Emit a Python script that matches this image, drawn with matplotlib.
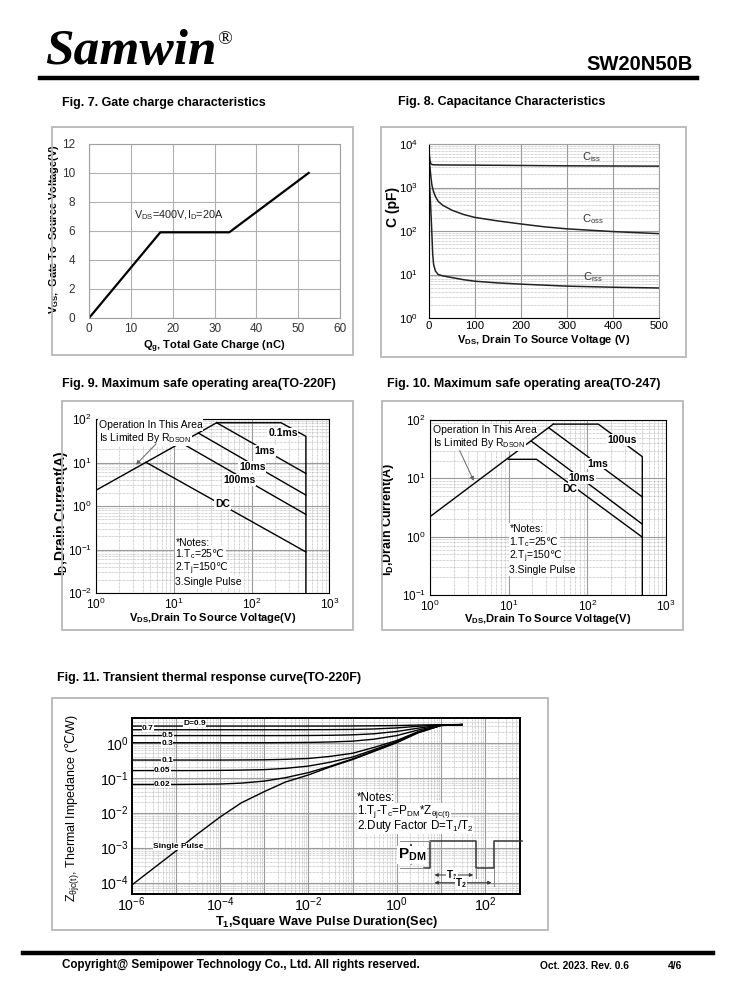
import math
import matplotlib
matplotlib.use("Agg")
import matplotlib.pyplot as plt
from matplotlib.patches import Rectangle, FancyArrowPatch
from matplotlib.lines import Line2D
from matplotlib.ticker import LogLocator, NullFormatter, FixedLocator, MultipleLocator, FuncFormatter

plt.rcParams['font.family'] = ['Liberation Sans', 'DejaVu Sans']
plt.rcParams['mathtext.default'] = 'regular'
# \mathrm{} falls back to DejaVu Sans, which has the degree-Celsius sign
plt.rcParams['mathtext.fontset'] = 'custom'
plt.rcParams['mathtext.rm'] = 'DejaVu Sans'
plt.rcParams['mathtext.it'] = 'DejaVu Sans:italic'
plt.rcParams['mathtext.bf'] = 'DejaVu Sans:bold'

W, H = 738, 1000
DEG = '$\\mathrm{\u2103}$'

# ---- Fig. 7 gate charge ----
qg = [0, 17, 33.5, 52.5]
vgs = [0, 5.9, 5.9, 10]

# ---- Fig. 8 capacitance ----
vds_cap = [0.5, 2, 4, 6, 8, 10, 14, 20, 30, 50, 75, 100, 150, 200, 250, 300, 400, 500]
ciss = [6000, 4200, 3500, 3400, 3350, 3330, 3320, 3310, 3300, 3290, 3280, 3270, 3240, 3210, 3180, 3150, 3120, 3100]
coss = [5000, 3000, 1800, 1200, 950, 800, 620, 480, 390, 300, 240, 205, 170, 145, 125, 112, 97, 87]
crss = [1500, 800, 300, 100, 30, 17, 12, 10, 9.3, 8.5, 7.6, 7.0, 6.4, 6.0, 5.7, 5.4, 5.1, 4.9]

# ---- Fig. 9 SOA TO-220F ----
f9_rds_v, f9_rds_i = [1, 35.6], [2.3, 82]
f9_01ms_v, f9_01ms_i = [35.6, 240, 500, 500], [82, 82, 40, 0.01]
f9_1ms_v, f9_1ms_i = [35.6, 500], [82, 5.6]
f9_10ms_v, f9_10ms_i = [20.7, 500], [47.6, 1.78]
f9_100ms_v, f9_100ms_i = [12.4, 500], [28.5, 0.64]
f9_dc_v, f9_dc_i = [4.4, 500], [10.1, 0.088]

# ---- Fig. 10 SOA TO-247 ----
f10_rds_v, f10_rds_i = [1, 36.9], [2.2, 85]
f10_100us_v, f10_100us_i = [36.9, 138, 500, 500], [85, 85, 23.5, 0.1]
f10_1ms_v, f10_1ms_i = [33, 500], [72, 4.8]
f10_10ms_v, f10_10ms_i = [19.6, 500], [43, 1.64]
f10_dc_v, f10_dc_i = [9.9, 22.6, 500], [21.2, 21.2, 0.98]

# ---- Fig. 11 transient thermal ----
t_pulse = [1e-6, 1e-5, 3e-5, 1e-4, 3e-4, 1e-3, 3e-3, 1e-2, 3e-2, 1e-1, 3e-1, 1, 3, 10, 30]
z_single = [8.5e-5, 8e-4, 2.4e-3, 7.5e-3, 0.019, 0.04, 0.075, 0.12, 0.2, 0.33, 0.56, 1.0, 1.9, 3.1, 3.3]
z_d002 = [0.064, 0.064, 0.065, 0.066, 0.07, 0.08, 0.1, 0.14, 0.21, 0.345, 0.58, 1.03, 1.95, 3.12, 3.3]
z_d005 = [0.16, 0.16, 0.16, 0.162, 0.165, 0.17, 0.185, 0.215, 0.275, 0.39, 0.63, 1.08, 2.0, 3.14, 3.3]
z_d01 = [0.32, 0.32, 0.32, 0.32, 0.322, 0.325, 0.335, 0.355, 0.405, 0.5, 0.73, 1.16, 2.06, 3.16, 3.3]
z_d03 = [1.0, 1.0, 1.0, 1.0, 1.0, 1.0, 1.01, 1.02, 1.05, 1.11, 1.26, 1.6, 2.3, 3.2, 3.3]
z_d05 = [1.6, 1.6, 1.6, 1.6, 1.6, 1.6, 1.6, 1.61, 1.63, 1.68, 1.8, 2.1, 2.6, 3.22, 3.3]
z_d07 = [2.35, 2.35, 2.35, 2.35, 2.35, 2.35, 2.35, 2.36, 2.37, 2.4, 2.47, 2.65, 2.95, 3.25, 3.3]
z_d09 = [3.0, 3.0, 3.0, 3.0, 3.0, 3.0, 3.0, 3.0, 3.0, 3.02, 3.05, 3.1, 3.2, 3.28, 3.3]

fig = plt.figure(figsize=(W / 100, H / 100), dpi=100)


def fx(px):
    return px / W


def fy(py):
    return 1 - py / H


def px_axes(x0, y0, x1, y1):
    return fig.add_axes([fx(x0), fy(y1), (x1 - x0) / W, (y1 - y0) / H])


def frame(x0, y0, x1, y1):
    fig.add_artist(Rectangle((fx(x0), fy(y1)), (x1 - x0) / W, (y1 - y0) / H,
                             transform=fig.transFigure, fill=False,
                             edgecolor='#b8b8b8', lw=1.3))


def fline(xs, ys, **kw):
    fig.add_artist(Line2D([fx(x) for x in xs], [fy(y) for y in ys],
                          transform=fig.transFigure, **kw))


def farrow(p0, p1, style):
    fig.add_artist(FancyArrowPatch((fx(p0[0]), fy(p0[1])), (fx(p1[0]), fy(p1[1])),
                                   transform=fig.transFigure, arrowstyle=style,
                                   mutation_scale=5, color='#333333', lw=0.7))


def ftext(px, py, s, **kw):
    fig.text(fx(px), fy(py), s, **kw)


def place_labels(ax, xl, yl):
    # centre of the x label and the y label, in axes fractions
    ax.xaxis.set_label_coords(*xl)
    ax.xaxis.label.set_va('center')
    ax.yaxis.set_label_coords(*yl)
    ax.yaxis.label.set_va('center')
    ax.yaxis.label.set_ha('center')


def log_grid(ax):
    ax.grid(True, which='major', color='#9a9a9a', lw=0.8, ls='-')
    ax.xaxis.set_minor_locator(LogLocator(base=10, subs=range(2, 10), numticks=20))
    ax.yaxis.set_minor_locator(LogLocator(base=10, subs=range(2, 10), numticks=20))
    ax.grid(True, which='minor', color='#a8a8a8', lw=0.5, ls=(0, (1, 1)))
    ax.xaxis.set_minor_formatter(NullFormatter())
    ax.yaxis.set_minor_formatter(NullFormatter())
    ax.set_axisbelow(True)


white = dict(facecolor='white', edgecolor='none', pad=0.6)

# ---------------- header / footer ----------------
ftext(45, 52, 'Samwin', family='Liberation Serif', weight='bold', style='italic',
      fontsize=37, va='center', ha='left')
ftext(217, 40, '®', family='Liberation Serif', fontsize=14, va='center', ha='left')
ftext(693, 65, 'SW20N50B', weight='bold', fontsize=14.5, va='center', ha='right')
fline([40, 697], [78, 78], color='black', lw=3.2)
fline([23, 713], [953, 953], color='black', lw=3.2)
ftext(62, 965, 'Copyright@ Semipower Technology Co., Ltd. All rights reserved.',
      weight='bold', fontsize=8.4, va='center', ha='left')
ftext(540, 966, 'Oct. 2023. Rev. 0.6', weight='bold', fontsize=7.4, va='center', ha='left')
ftext(668, 966, '4/6', weight='bold', fontsize=7.4, va='center', ha='left')

ftext(62, 103, 'Fig. 7. Gate charge characteristics', weight='bold', fontsize=9, va='center')
ftext(398, 102, 'Fig. 8. Capacitance Characteristics', weight='bold', fontsize=9, va='center')
ftext(62, 384, 'Fig. 9. Maximum safe operating area(TO-220F)', weight='bold', fontsize=9, va='center')
ftext(387, 384, 'Fig. 10. Maximum safe operating area(TO-247)', weight='bold', fontsize=9, va='center')
ftext(57, 678, 'Fig. 11. Transient thermal response curve(TO-220F)', weight='bold', fontsize=9, va='center')

frame(52, 127, 353, 355)
frame(381, 127, 686, 357)
frame(62, 401, 353, 630)
frame(382, 401, 683, 630)
frame(52, 698, 548, 930)

# ---------------- Fig. 7 ----------------
ax7 = px_axes(89.3, 144, 340, 317.7)
ax7.plot(qg, vgs, color='black', lw=1.6)
ax7.set_xlim(0, 60)
ax7.set_ylim(0, 12)
ax7.xaxis.set_major_locator(MultipleLocator(10))
ax7.yaxis.set_major_locator(MultipleLocator(2))
ax7.grid(True, color='#b0b0b0', lw=0.8)
ax7.set_axisbelow(True)
for sp in ax7.spines.values():
    sp.set_color('#a0a0a0')
ax7.tick_params(length=0, labelsize=8.5, colors='#333333')
ax7.tick_params(axis='y', pad=10)
ax7.tick_params(axis='x', pad=4)
ax7.text(10.6, 7.05, '$V_{DS}$=400V,$I_{D}$=20A', fontsize=7.8, va='center', ha='left', color='#222222')
ax7.set_xlabel('$Q_{g}$, Total Gate Charge (nC)', weight='bold', fontsize=8)
ax7.set_ylabel('$V_{GS}$,  Gate To  Source Voltage(V)', weight='bold', fontsize=7.8)
place_labels(ax7, (0.5, -0.165), (-0.142, 0.51))

# ---------------- Fig. 8 ----------------
ax8 = px_axes(429, 144, 659, 318)
ax8.plot(vds_cap, ciss, color='#222222', lw=1.1)
ax8.plot(vds_cap, coss, color='#222222', lw=1.1)
ax8.plot(vds_cap, crss, color='#222222', lw=1.1)
ax8.set_yscale('log')
ax8.set_xlim(0, 500)
ax8.set_ylim(1, 1e4)
ax8.xaxis.set_major_locator(MultipleLocator(100))
ax8.yaxis.set_major_locator(LogLocator(base=10, numticks=10))
ax8.grid(True, which='major', color='#9a9a9a', lw=0.8)
ax8.yaxis.set_minor_locator(LogLocator(base=10, subs=range(2, 10), numticks=20))
ax8.yaxis.set_minor_formatter(NullFormatter())
ax8.grid(True, which='minor', axis='y', color='#a8a8a8', lw=0.5, ls=(0, (1, 1)))
ax8.set_axisbelow(True)
ax8.tick_params(which='both', length=0, labelsize=8.2)
ax8.tick_params(axis='y', pad=8)
ax8.tick_params(axis='x', pad=2)
for sp in ('top', 'right'):
    ax8.spines[sp].set_color('#a0a0a0')
ax8.text(353, 4900, '$C_{iss}$', fontsize=8, va='center', ha='center', color='#333333')
ax8.text(356, 183, '$C_{oss}$', fontsize=8, va='center', ha='center', color='#333333')
ax8.text(356, 8.7, '$C_{rss}$', fontsize=8, va='center', ha='center', color='#333333')
ax8.set_xlabel('$V_{DS}$, Drain To Source Voltage (V)', weight='bold', fontsize=8)
ax8.set_ylabel('C (pF)', weight='bold', fontsize=10)
place_labels(ax8, (0.5, -0.125), (-0.157, 0.638))

# ---------------- Fig. 9 ----------------
ax9 = px_axes(96, 419, 329.3, 593)
for xs, ys in [(f9_rds_v, f9_rds_i), (f9_01ms_v, f9_01ms_i), (f9_1ms_v, f9_1ms_i),
               (f9_10ms_v, f9_10ms_i), (f9_100ms_v, f9_100ms_i), (f9_dc_v, f9_dc_i)]:
    ax9.plot(xs, ys, color='black', lw=1.0)
ax9.set_xscale('log')
ax9.set_yscale('log')
ax9.set_xlim(1, 1000)
ax9.set_ylim(0.01, 100)
log_grid(ax9)
ax9.tick_params(which='both', length=0, labelsize=8.5, pad=3)
for lbl, x, y in [('0.1ms', 253, 46.5), ('1ms', 148, 18.6), ('10ms', 102, 7.9),
                  ('100ms', 69, 4.0), ('DC', 42, 1.1)]:
    ax9.text(x, y, lbl, fontsize=7.5, weight='bold', ha='center', va='center', bbox=white)
ax9.text(1.08, 72, 'Operation In This Area', fontsize=7.5, va='center', ha='left', bbox=white)
ax9.text(1.08, 37, 'Is Limited By $R_{DSON}$', fontsize=7.5, va='center', ha='left', bbox=white)
ax9.annotate('', xy=(3.08, 8.0), xytext=(6.3, 30),
             arrowprops=dict(arrowstyle='-|>', color='#666666', lw=0.7, mutation_scale=6))
for txt, y in [('*Notes:', 0.14), ('1.$T_{c}$=25' + DEG, 0.078), ('2.$T_{j}$=150' + DEG, 0.036),
               ('3.Single Pulse', 0.018)]:
    ax9.text(10.5, y, txt, fontsize=7.5, va='center', ha='left', bbox=white)
ax9.set_xlabel('$V_{DS}$,Drain To Source Voltage(V)', weight='bold', fontsize=8)
ax9.set_ylabel('$I_{D}$,Drain Current(A)', weight='bold', fontsize=10)
place_labels(ax9, (0.5, -0.145), (-0.15, 0.457))

# ---------------- Fig. 10 ----------------
ax10 = px_axes(430, 420, 666, 595)
for xs, ys in [(f10_rds_v, f10_rds_i), (f10_100us_v, f10_100us_i), (f10_1ms_v, f10_1ms_i),
               (f10_10ms_v, f10_10ms_i), (f10_dc_v, f10_dc_i)]:
    ax10.plot(xs, ys, color='black', lw=1.0)
ax10.set_xscale('log')
ax10.set_yscale('log')
ax10.set_xlim(1, 1000)
ax10.set_ylim(0.1, 100)
log_grid(ax10)
ax10.tick_params(which='both', length=0, labelsize=8.5, pad=3)
for lbl, x, y in [('100us', 275, 45), ('1ms', 137, 17.9), ('10ms', 84.6, 10.2), ('DC', 60, 6.5)]:
    ax10.text(x, y, lbl, fontsize=7.5, weight='bold', ha='center', va='center', bbox=white)
ax10.text(1.08, 68, 'Operation In This Area', fontsize=7.5, va='center', ha='left', bbox=white)
ax10.text(1.08, 40, 'Is Limited By $R_{DSON}$', fontsize=7.5, va='center', ha='left', bbox=white)
ax10.annotate('', xy=(3.73, 8.2), xytext=(2.3, 33),
              arrowprops=dict(arrowstyle='-|>', color='#666666', lw=0.7, mutation_scale=6))
for txt, y in [('*Notes:', 1.35), ('1.$T_{c}$=25' + DEG, 0.82), ('2.$T_{j}$=150' + DEG, 0.45),
               ('3.Single Pulse', 0.27)]:
    ax10.text(10.2, y, txt, fontsize=7.5, va='center', ha='left', bbox=white)
ax10.set_xlabel('$V_{DS}$,Drain To Source Voltage(V)', weight='bold', fontsize=8)
ax10.set_ylabel('$I_{D}$,Drain Current(A)', weight='bold', fontsize=9)
place_labels(ax10, (0.5, -0.14), (-0.18, 0.434))

# ---------------- Fig. 11 ----------------
ax11 = px_axes(131.7, 717.9, 520.4, 894.2)
for z in [z_d09, z_d07, z_d05, z_d03, z_d01, z_d005, z_d002, z_single]:
    ax11.plot(t_pulse, z, color='black', lw=1.0)
ax11.set_xscale('log')
ax11.set_yscale('log')
ax11.set_xlim(1e-6, 10 ** 2.8)
ax11.set_ylim(10 ** -4.33, 10 ** 0.71)
log_grid(ax11)
ax11.xaxis.set_major_locator(FixedLocator([10.0 ** k for k in range(-6, 3)]))
ax11.xaxis.set_major_formatter(FuncFormatter(
    lambda v, p: '$10^{%d}$' % round(math.log10(v)) if round(math.log10(v)) % 2 == 0 else ''))
ax11.yaxis.set_major_locator(FixedLocator([10.0 ** k for k in range(-4, 1)]))
ax11.tick_params(which='both', length=0, labelsize=10.2)
ax11.tick_params(axis='x', pad=1)
ax11.tick_params(axis='y', pad=2)
for sp in ax11.spines.values():
    sp.set_linewidth(1.4)
for lbl, x, y in [('D=0.9', 2.7e-5, 3.57), ('0.7', 2.3e-6, 2.6), ('0.5', 6.6e-6, 1.6),
                  ('0.3', 6.4e-6, 0.98), ('0.1', 6.4e-6, 0.32), ('0.05', 4.9e-6, 0.158),
                  ('0.02', 4.9e-6, 0.065), ('Single Pulse', 1.15e-5, 1.07e-3)]:
    ax11.text(x, y, lbl, fontsize=6, weight='bold', ha='center', va='center',
              bbox=dict(facecolor='white', edgecolor='none', pad=0.2))
ax11.set_xlabel('$T_{1}$,Square Wave Pulse Duration(Sec)', weight='bold', fontsize=9.2)
ax11.set_ylabel('$Z_{\\theta jc(t)}$, Thermal Impedance (' + DEG + '/W)', fontsize=9)
place_labels(ax11, (0.5, -0.155), (-0.15, 0.49))

# notes and pulse sketch
for txt, py in [('*Notes:', 798), ('1.$T_{j}$-$T_{c}$=$P_{DM}$*$Z_{\\theta jc(t)}$', 811.3),
                ('2.Duty Factor D=$T_{1}$/$T_{2}$', 826)]:
    ftext(357, py, txt, fontsize=8.4, va='center', ha='left',
          bbox=dict(facecolor='white', edgecolor='none', pad=0))
fline([424, 430, 430, 476, 476, 494.3, 494.3, 521.7],
      [867.7, 867.7, 841, 841, 867.7, 867.7, 841, 841], color='#333333', lw=1.1)
fline([400, 430], [841, 841], color='#888888', lw=0.7)
fline([400, 424], [867.7, 867.7], color='#888888', lw=0.7)
fline([494.3, 494.3], [867.7, 886], color='#888888', lw=0.7)
fline([476, 476], [867.7, 878], color='#888888', lw=0.7)
farrow((411, 848), (411, 841), '-|>')
farrow((411, 861), (411, 867.7), '-|>')
ftext(412, 855, '$P_{DM}$', fontsize=11, weight='bold', va='center', ha='center',
      bbox=dict(facecolor='white', edgecolor='none', pad=0.3))
farrow((431.7, 875), (476, 875), '<|-|>')
farrow((431.7, 882.7), (494.3, 882.7), '<|-|>')
ftext(452, 875, '$T_{1}$', fontsize=7, weight='bold', va='center', ha='center',
      bbox=dict(facecolor='white', edgecolor='none', pad=0.2))
ftext(461, 883, '$T_{2}$', fontsize=7, weight='bold', va='center', ha='center',
      bbox=dict(facecolor='white', edgecolor='none', pad=0.2))

fig.savefig('out.png', dpi=100)
